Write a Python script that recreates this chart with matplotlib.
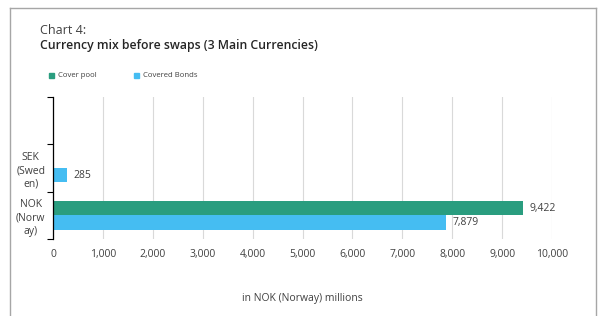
import matplotlib
matplotlib.use("Agg")
import matplotlib.pyplot as plt
import numpy as np
from matplotlib.lines import Line2D
from matplotlib.patches import Rectangle

categories = ["", "SEK\n(Swed\nen)", "NOK\n(Norw\nay)"]
cover_pool = [0, 0, 9422]
covered_bonds = [0, 285, 7879]
series_names = ["Cover pool", "Covered Bonds"]
xticks = list(range(0, 10001, 1000))

green = "#2a9d7f"
blue = "#45bdf2"

plt.rcParams['font.family'] = ['Open Sans', 'DejaVu Sans']

W, H = 601, 316
fig = plt.figure(figsize=(W/100, H/100), dpi=100)
ax = fig.add_axes([53/W, 1-239/H, (552-53)/W, (239-97)/H])

y = np.arange(len(categories))
h = 0.30
ax.barh(y - h/2, cover_pool, height=h, color=green, label=series_names[0])
ax.barh(y + h/2, covered_bonds, height=h, color=blue, label=series_names[1])
for yi, v in zip(y, cover_pool):
    if v:
        ax.text(v + 130, yi - h/2, f"{v:,}", va="center", ha="left", fontsize=7.5, color="#404040")
for yi, v in zip(y, covered_bonds):
    if v:
        ax.text(v + 130, yi + h/2, f"{v:,}", va="center", ha="left", fontsize=7.5, color="#404040")

ax.set_ylim(2.5, -0.5)
ax.set_xlim(0, 10000)
ax.set_yticks(y)
ax.set_yticklabels(categories, fontsize=7.5, color="#404040", ha="center", linespacing=1.3)
ax.tick_params(axis="y", length=0, pad=16)
ax.set_yticks([-0.5, 0.5, 1.5, 2.5], minor=True)
ax.tick_params(axis="y", which="minor", length=4, width=0.8, color="black")
ax.set_xticks(xticks)
ax.set_xticklabels([f"{t:,}" for t in xticks], fontsize=7.5, color="#404040")
ax.tick_params(axis="x", length=0, pad=7)
ax.grid(axis="x", color="#d9d9d9", linewidth=0.8)
ax.set_axisbelow(True)
for s in ["top", "right", "bottom"]:
    ax.spines[s].set_visible(False)
ax.spines["left"].set_color("black")
ax.spines["left"].set_linewidth(0.9)

ax.set_xlabel("in NOK (Norway) millions", fontsize=7.5, color="#404040", labelpad=24)

fig.text(40/W, 1-30/H, "Chart 4:", fontsize=9, color="#404040", va="center")
fig.text(40/W, 1-46/H, "Currency mix before swaps (3 Main Currencies)", fontsize=8.8,
         fontweight="semibold", color="#262626", va="center")

# legend
for x0, c, name in [(49, green, series_names[0]), (134, blue, series_names[1])]:
    fig.patches.append(Rectangle((x0/W, 1-78/H), 5/W, 5/H, transform=fig.transFigure,
                                 color=c, figure=fig))
    fig.text((x0+9)/W, 1-75.5/H, name, fontsize=5.6, color="#404040", va="center")

# border
bc = "#a6a6a6"
fig.add_artist(Line2D([9.5/W, 9.5/W], [0, 1-7.5/H], transform=fig.transFigure, color=bc, lw=1))
fig.add_artist(Line2D([595.5/W, 595.5/W], [0, 1-7.5/H], transform=fig.transFigure, color=bc, lw=1))
fig.add_artist(Line2D([9.5/W, 595.5/W], [1-7.5/H, 1-7.5/H], transform=fig.transFigure, color=bc, lw=1))

fig.savefig("out.png", dpi=100)
